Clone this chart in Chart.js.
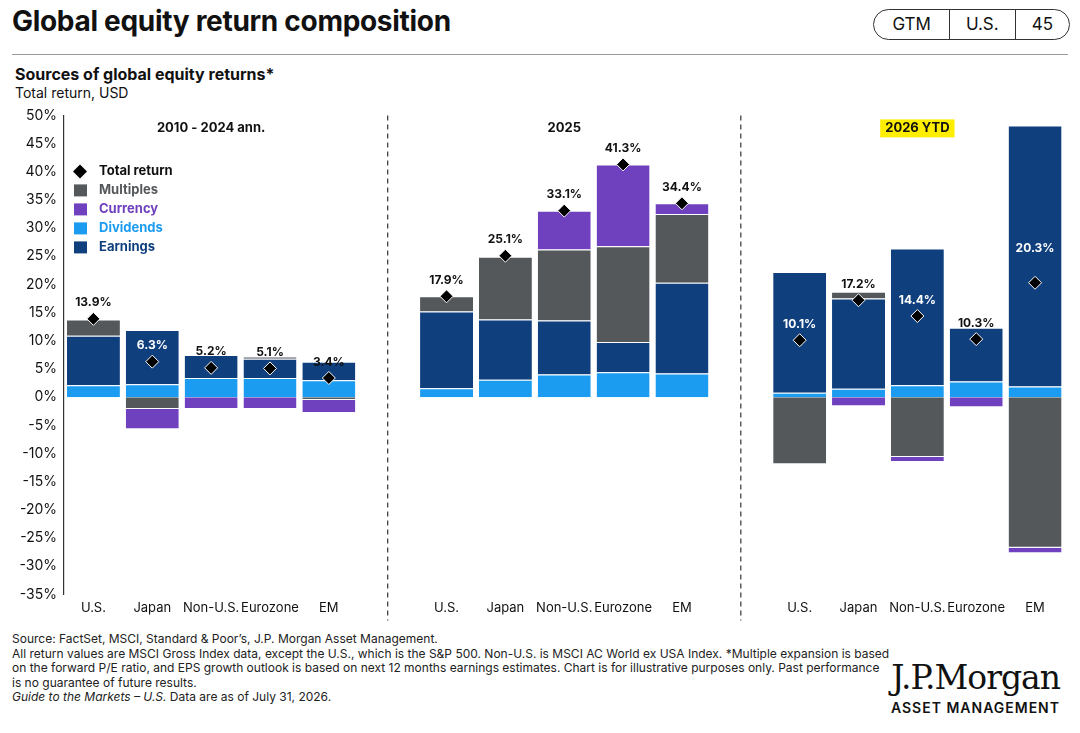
<!DOCTYPE html>
<html><head><meta charset="utf-8">
<script src="https://cdn.jsdelivr.net/npm/chart.js@4/dist/chart.umd.min.js"></script>
<style>
body{margin:0;width:1080px;height:733px;background:#fff;font-family:Inter,"Noto Sans",sans-serif;color:#111;position:relative;overflow:hidden}
.t{position:absolute;left:12px;top:4px;font-size:28px;font-weight:700;letter-spacing:-0.3px}
.tabs{position:absolute;right:10px;top:9px;display:flex;border:1.5px solid #333;border-radius:16px;height:29px;font-size:17px}
.tabs div{padding:0 16px;line-height:29px;border-left:1.5px solid #333}.tabs div:first-child{border:0;padding:0 18px}
.rule{position:absolute;left:12px;right:12px;top:54px;border-top:1px solid #999}
.s1{position:absolute;left:15px;top:64px;font-size:16px;font-weight:700}
.s2{position:absolute;left:15px;top:84px;font-size:14px}
#wrap{position:absolute;left:0;top:104px;width:1072px;height:518px}
.foot{position:absolute;left:12px;top:632px;width:880px;font-size:12px;line-height:14.5px;color:#222}
.logo{position:absolute;right:20px;top:658px;text-align:right}
.logo .a{font-family:"DejaVu Serif","Liberation Serif",serif;font-size:33px;letter-spacing:-1px}
.logo .b{font-size:14px;font-weight:600;letter-spacing:1px;margin-top:2px}
</style></head><body>
<div class="t">Global equity return composition</div>
<div class="tabs"><div>GTM</div><div>U.S.</div><div>45</div></div>
<div class="rule"></div>
<div class="s1">Sources of global equity returns*</div>
<div class="s2">Total return, USD</div>
<div id="wrap"><canvas id="c"></canvas></div>
<div class="foot">Source: FactSet, MSCI, Standard &amp; Poor’s, J.P. Morgan Asset Management.<br>All return values are MSCI Gross Index data, except the U.S., which is the S&amp;P 500. Non-U.S. is MSCI AC World ex USA Index. *Multiple expansion is based on the forward P/E ratio, and EPS growth outlook is based on next 12 months earnings estimates. Chart is for illustrative purposes only. Past performance is no guarantee of future results.<br><i>Guide to the Markets – U.S.</i> Data are as of July 31, 2026.</div>
<div class="logo"><div class="a">J.P.Morgan</div><div class="b">ASSET MANAGEMENT</div></div>
<script>
const categories = ['U.S.','Japan','Non-U.S.','Eurozone','EM','', 'U.S.','Japan','Non-U.S.','Eurozone','EM','', 'U.S.','Japan','Non-U.S.','Eurozone','EM'];
const groupTitles = ['2010 - 2024 ann.', '2025', '2026 YTD'];
const dividends = [2.1, 2.3, 3.4, 3.4, 3.0, null, 1.6, 3.1, 4.0, 4.4, 4.2, null, 0.8, 1.5, 2.1, 2.8, 1.9];
const earnings  = [8.8, 9.6, 4.1, 3.4, 3.3, null, 13.6, 10.7, 9.6, 5.4, 16.1, null, 21.4, 16.0, 24.3, 9.5, 46.3];
const multiples = [2.9, -2.1, 0, 0.4, -0.5, null, 2.7, 11.1, 12.6, 17.0, 12.2, null, -11.9, 1.2, -10.6, 0, -26.7];
const currency  = [0, -3.6, -2.1, -2.1, -2.3, null, 0, 0, 6.9, 14.5, 1.9, null, 0, -1.6, -0.9, -1.8, -1.0];
const totalReturn = [13.9, 6.3, 5.2, 5.1, 3.4, null, 17.9, 25.1, 33.1, 41.3, 34.4, null, 10.1, 17.2, 14.4, 10.3, 20.3];
const whiteLabels = [1, 12, 14, 16];
const yTicks = [50, -35, 5];

const C = {earn:'#0f3f7d', div:'#1c9cf0', mult:'#55585b', cur:'#7041be'};

const extras = {
  id:'extras',
  afterDatasetsDraw(chart){
    const {ctx, chartArea:a, scales:{x,y}} = chart;
    ctx.save();
    // separators
    ctx.strokeStyle='#333'; ctx.lineWidth=1.2; ctx.setLineDash([5,4]);
    [5,11].forEach(i=>{const px=x.getPixelForValue(i);ctx.beginPath();ctx.moveTo(px,a.top);ctx.lineTo(px,a.bottom+26);ctx.stroke();});
    ctx.setLineDash([]);
    // group titles
    ctx.font='bold 13px Inter, sans-serif'; ctx.textAlign='center'; ctx.textBaseline='middle';
    groupTitles.forEach((t,g)=>{
      const px=x.getPixelForValue(g*6+2), py=a.top+13;
      if(g===2){const w=ctx.measureText(t).width+10;ctx.fillStyle='#ffee00';ctx.fillRect(px-w/2,py-9,w,18);}
      ctx.fillStyle='#111'; ctx.fillText(t,px,py);
    });
    // total labels
    ctx.font='bold 12px Inter, sans-serif';
    totalReturn.forEach((v,i)=>{
      if(v==null) return;
      const px=x.getPixelForValue(i);
      let py=y.getPixelForValue(v)-16;
      if(i===16) py=y.getPixelForValue(v)-34;
      ctx.fillStyle=whiteLabels.includes(i)?'#fff':'#111';
      ctx.fillText(v.toFixed(1)+'%',px,py);
    });
    // legend
    const items=[['Total return','#111','d'],['Multiples',C.mult],['Currency',C.cur],['Dividends',C.div],['Earnings',C.earn]];
    ctx.textAlign='left';
    items.forEach((it,k)=>{
      const lx=a.left+10, ly=a.top+56+k*19;
      if(it[2]){ctx.fillStyle='#000';ctx.beginPath();ctx.moveTo(lx+6,ly-7);ctx.lineTo(lx+13,ly);ctx.lineTo(lx+6,ly+7);ctx.lineTo(lx-1,ly);ctx.closePath();ctx.fill();}
      else{ctx.fillStyle=it[1];ctx.fillRect(lx,ly-6,13,12);}
      ctx.fillStyle=it[2]?'#111':it[1]; ctx.font='bold 13px Inter, sans-serif';
      ctx.fillText(it[0],lx+25,ly);
    });
    ctx.restore();
  }
};

const bar = (label,data,color)=>({type:'bar',label,data,backgroundColor:color,borderColor:'#fff',borderWidth:{top:1,bottom:1,left:0,right:0},stack:'s',barPercentage:0.9,categoryPercentage:1,order:2});

new Chart(document.getElementById('c'),{
  data:{labels:categories,datasets:[
    {type:'line',label:'Total return',data:totalReturn,showLine:false,pointStyle:'rectRot',pointRadius:6.5,pointBackgroundColor:'#000',pointBorderColor:'#fff',pointBorderWidth:1,order:1},
    bar('Dividends',dividends,C.div),
    bar('Earnings',earnings,C.earn),
    bar('Multiples',multiples,C.mult),
    bar('Currency',currency,C.cur)
  ]},
  options:{
    responsive:true,maintainAspectRatio:false,animation:false,
    layout:{padding:{top:4,right:0,left:0,bottom:0}},
    plugins:{legend:{display:false},tooltip:{enabled:false}},
    scales:{
      x:{stacked:true,grid:{display:false,drawTicks:false},border:{display:false},
         ticks:{color:'#111',font:{size:13,family:'Inter'},padding:6,maxRotation:0,autoSkip:false}},
      y:{stacked:true,min:yTicks[1],max:yTicks[0],
         afterFit(s){s.width=64;},
         grid:{display:false,drawTicks:true,tickLength:4},border:{display:true,color:'#333',width:1.2},
         ticks:{stepSize:yTicks[2],color:'#111',font:{size:14,family:'Inter'},callback:v=>v+'%'}}
    }
  },
  plugins:[extras]
});
</script>
</body></html>
